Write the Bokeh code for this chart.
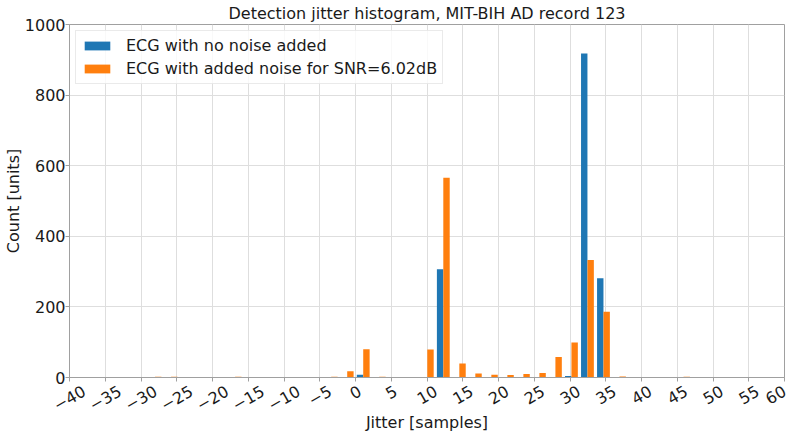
import math
from bokeh.plotting import figure
from bokeh.models import (ColumnDataSource, FixedTicker, Legend, LegendItem,
                          Range1d, LinearAxis, CustomJSTickFormatter)
from bokeh.embed import file_html
from bokeh.resources import INLINE

# Histogram bins (centres, in samples) and counts per bin
bin_centers = [-28.04, -25.80, -23.56, -21.32, -19.08, -16.84, -14.60, -12.36,
               -10.12, -7.88, -5.64, -3.40, -1.16, 1.08, 3.32, 5.56, 7.80,
               10.04, 12.28, 14.52, 16.76, 19.00, 21.24, 23.48, 25.72, 27.96,
               30.20, 32.44, 34.68, 36.92, 39.16, 41.40, 43.64, 45.88, 48.12,
               50.36, 52.60, 54.84]
bin_width = 2.24

counts_clean = [0, 0, 0, 0, 0, 0, 0, 0, 0, 0, 0, 0, 0, 8, 0, 0, 0,
                0, 307, 0, 0, 0, 0, 0, 0, 0, 4, 918, 281, 0, 0, 0, 0,
                1, 0, 0, 0, 0]
counts_noisy = [2, 2, 0, 0, 0, 2, 0, 0, 0, 0, 0, 2, 18, 80, 2, 0, 0,
                79, 566, 40, 11, 8, 7, 10, 13, 58, 99, 333, 186, 3, 0, 0, 0,
                2, 0, 0, 0, 1]

label_clean = "ECG with no noise added"
label_noisy = "ECG with added noise for SNR=6.02dB"

x_min, x_max = -40, 60
x_ticks = list(range(-40, 61, 5))
y_ticks = list(range(0, 1001, 200))

FONT = "DejaVu Sans"
TXT = "#1a1a1a"
SPINE = "#a0a0a0"
BLUE = "#1f77b4"
ORANGE = "#ff7f0e"
TICK_PX = 16
ANGLE = math.radians(30)
FRAME_W = 715  # plot frame width in pixels

p = figure(width=798, height=434, output_backend="svg", toolbar_location=None,
           x_range=Range1d(x_min, x_max), y_range=Range1d(0, 1000),
           title="Detection jitter histogram, MIT-BIH AD record 123",
           min_border_left=0, min_border_right=14, min_border_top=2,
           min_border_bottom=0)

# side-by-side bars within each bin, as in a grouped histogram
offset = 0.2 * bin_width
bar_w = 0.4 * bin_width
src = ColumnDataSource(dict(
    xc=[c - offset for c in bin_centers],
    xn=[c + offset for c in bin_centers],
    clean=counts_clean, noisy=counts_noisy))
r_clean = p.vbar(x="xc", top="clean", bottom=0, width=bar_w, source=src,
                 fill_color=BLUE, line_color=None)
r_noisy = p.vbar(x="xn", top="noisy", bottom=0, width=bar_w, source=src,
                 fill_color=ORANGE, line_color=None)

# title
p.title.text_font = FONT
p.title.text_font_size = "16px"
p.title.text_font_style = "normal"
p.title.align = "center"
p.title.text_color = TXT
p.title.standoff = 3

# axes
for ax in (p.xaxis[0], p.yaxis[0]):
    ax.major_label_text_font = FONT
    ax.major_label_text_font_size = f"{TICK_PX}px"
    ax.major_label_text_color = TXT
    ax.axis_label_text_font = FONT
    ax.axis_label_text_font_size = "16px"
    ax.axis_label_text_font_style = "normal"
    ax.axis_label_text_color = TXT
    ax.axis_line_color = SPINE
    ax.major_tick_line_color = SPINE
    ax.major_tick_out = 4
    ax.major_tick_in = 0
    ax.minor_tick_line_color = None

# main x axis: spine and tick marks only
p.xaxis.ticker = FixedTicker(ticks=x_ticks)
p.xaxis.major_label_overrides = {t: "" for t in x_ticks}
p.xaxis.major_label_text_font_size = "1px"
p.xaxis.major_label_standoff = 0

# second x axis carrying the rotated tick labels; each label is anchored
# half its width to the right so that it ends up centred under its tick
px_per_unit = FRAME_W / (x_max - x_min)
label_ticks = []
for t in x_ticks:
    txt = str(abs(t))
    w = (0.636 * len(txt) + (0.838 if t < 0 else 0)) * TICK_PX
    shifted = t + 0.5 * w * math.cos(ANGLE) / px_per_unit
    label_ticks.append(min(shifted, x_max))
lab_axis = LinearAxis(
    ticker=FixedTicker(ticks=label_ticks),
    formatter=CustomJSTickFormatter(code="""
        const t = Math.round(tick / 5) * 5;
        return (t < 0 ? "\\u2212" : "") + Math.abs(t);
    """),
    major_label_orientation=ANGLE,
    major_label_standoff=2,
    major_label_text_font=FONT,
    major_label_text_font_size=f"{TICK_PX}px",
    major_label_text_color=TXT,
    axis_line_color=None, major_tick_line_color=None,
    minor_tick_line_color=None,
    axis_label="Jitter [samples]",
    axis_label_standoff=-7,
    axis_label_text_font=FONT, axis_label_text_font_size="16px",
    axis_label_text_font_style="normal", axis_label_text_color=TXT)
p.add_layout(lab_axis, "below")

p.yaxis.ticker = FixedTicker(ticks=y_ticks)
p.yaxis.axis_label = "Count [units]"
p.yaxis.axis_label_standoff = -1
p.yaxis.major_label_standoff = 0

p.grid.grid_line_color = "#dedede"
p.grid.grid_line_width = 1
p.xgrid.ticker = FixedTicker(ticks=x_ticks)
p.ygrid.ticker = FixedTicker(ticks=y_ticks)

p.outline_line_color = SPINE
p.outline_line_width = 1
p.background_fill_color = "white"
p.border_fill_color = "white"

legend = Legend(items=[LegendItem(label=label_clean, renderers=[r_clean]),
                       LegendItem(label=label_noisy, renderers=[r_noisy])],
                location="top_left")
legend.label_text_font = FONT
legend.label_text_font_size = "16px"
legend.label_text_color = TXT
legend.glyph_width = 32
legend.glyph_height = 11
legend.label_standoff = 13
legend.spacing = 4
legend.padding = 5
legend.margin = 6
legend.border_line_color = "#d6d6d6"
legend.background_fill_alpha = 0.8
p.add_layout(legend)

open("out.html", "w").write(file_html(p, INLINE))
